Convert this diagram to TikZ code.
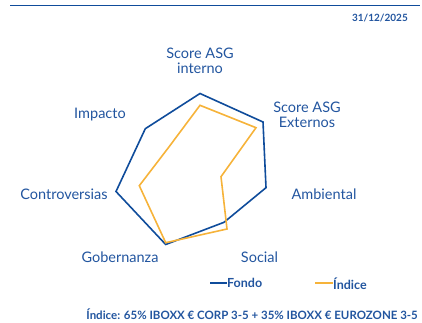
\documentclass[tikz,border=0pt]{standalone}
\usepackage{fontspec}
\setmainfont{Lato}
\definecolor{fondo}{HTML}{0F4C9B}
\definecolor{indice}{HTML}{F6B33A}
\definecolor{txt}{HTML}{22559F}
\tikzset{
  lab/.style={text=txt, font=\fontsize{14.5}{16}\selectfont, align=center, inner sep=0pt},
  serie/.style={line width=1.6pt, line join=miter},
  small/.style={text=txt, font=\fontsize{10}{12}\selectfont\bfseries, inner sep=0pt},
  legtxt/.style={small, font=\fontsize{12.5}{14}\selectfont\bfseries, anchor=west},
  legline/.style={line width=2pt}
}
\begin{document}
\begin{tikzpicture}[x=1pt,y=-1pt]
\useasboundingbox (0,0) rectangle (422,323);
\draw[fondo, line width=1.2pt] (10,5.3) -- (420,5.3);
\node[small, anchor=east] (date) at (408,18.5) {31/12/2025};
% labels
\node[lab] (l1) at (200,61) {Score ASG\\[-1pt]interno};
\node[lab] (l2) at (307,115) {Score ASG\\[-1pt]Externos};
\node[lab] (l3) at (324,194) {Ambiental};
\node[lab] (l4) at (259.5,257) {Social};
\node[lab] (l5) at (120,257) {Gobernanza};
\node[lab] (l6) at (64,194) {Controversias};
\node[lab] (l7) at (100,115) {Impacto};
% series
\draw[serie, fondo] (200,93.5) -- (263,122) -- (266,187.7) -- (224,222.3) -- (165.7,244.5) -- (116,191.5) -- (145.3,128.7) -- cycle;
\draw[serie, indice] (200,105.3) -- (256,127.7) -- (221,176.7) -- (227,229) -- (165.7,242.7) -- (139.3,185.7) -- (168.3,147.8) -- cycle;
% legend
\coordinate (fa) at (210,283.3);
\coordinate (fb) at (226.7,283.3);
\draw[fondo, legline] (fa) -- (fb);
\node[legtxt] (lf) at (227,283.3) {Fondo};
\coordinate (ia) at (315,283.3);
\coordinate (ib) at (332.7,283.3);
\draw[indice, legline] (ia) -- (ib);
\node[legtxt] (li) at (333,283.3) {Índice};
\node[small, font=\fontsize{11.5}{13}\selectfont\bfseries, anchor=east] (foot) at (418,314) {Índice: 65\% IBOXX € CORP 3-5 + 35\% IBOXX € EUROZONE 3-5};
\end{tikzpicture}
\end{document}
